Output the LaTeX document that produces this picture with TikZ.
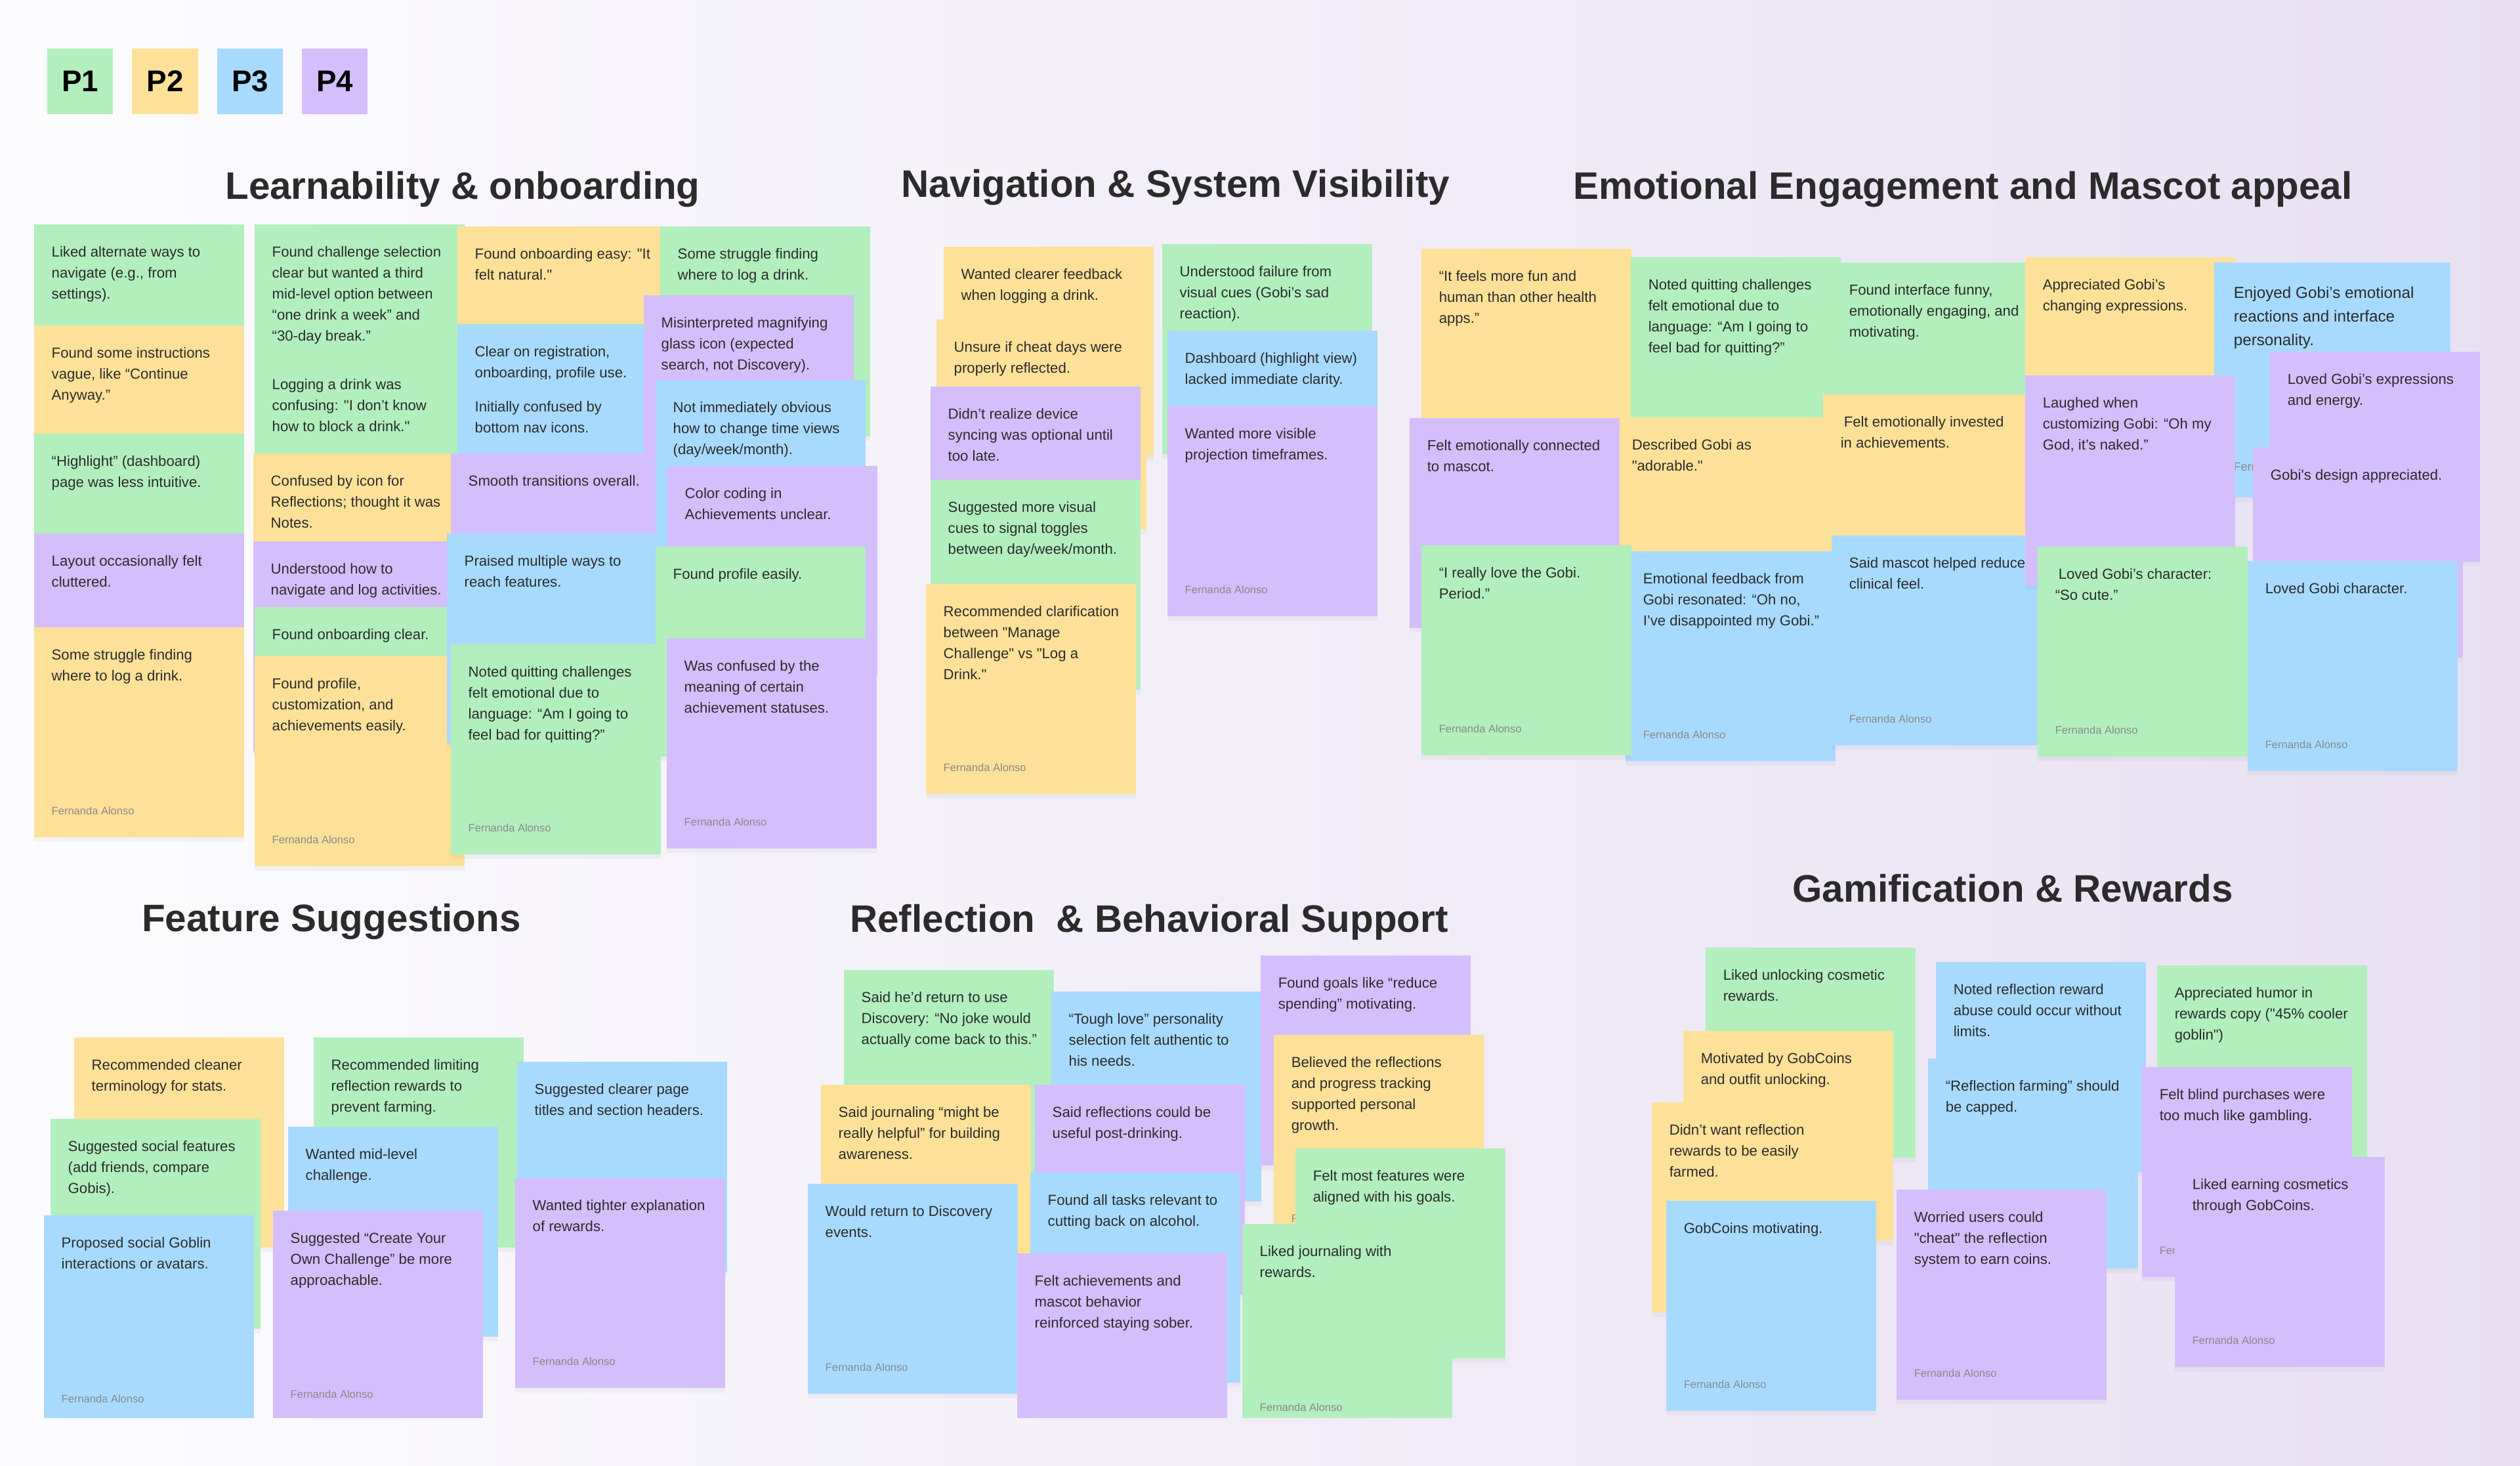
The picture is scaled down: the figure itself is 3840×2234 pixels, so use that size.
\documentclass[tikz,border=0pt]{standalone}
\usepackage{fontspec}
\setmainfont{Liberation Sans}[Ligatures=TeXOff]
\usepackage{xcolor}
\usetikzlibrary{positioning}
\usetikzlibrary{shadows}

\definecolor{pone}{HTML}{B2EFBC}
\definecolor{ptwo}{HTML}{FEE199}
\definecolor{pthree}{HTML}{A8DAFF}
\definecolor{pfour}{HTML}{D5BEFC}
\definecolor{ink}{HTML}{2B2B2B}
\definecolor{signgray}{HTML}{8A8A8A}
\definecolor{bgleft}{HTML}{FCFCFE}
\definecolor{bgright}{HTML}{E8E0F2}

\tikzset{
  paper/.style={fill=#1, anchor=north west, minimum width=3.2cm,
    minimum height=3.2cm, inner sep=0pt,
    drop shadow={shadow xshift=0pt, shadow yshift=-2pt, opacity=.07}},
  memo/.style={anchor=north west, inner sep=0pt, align=left, text=ink,
    font=\fontsize{6.3}{9.1}\selectfont},
  byline/.style={anchor=north west, inner sep=0pt, text=signgray,
    font=\fontsize{4.7}{5.6}\selectfont},
  heading/.style={text=ink, font=\fontsize{16.6}{20}\selectfont\bfseries},
  legendbox/.style={fill=#1, minimum width=1cm, minimum height=1cm,
    inner sep=0pt, font=\fontsize{13}{15}\selectfont\bfseries},
}

% sticky note: name, colour, top left corner, text
\newcommand{\sticky}[4]{%
  \node[paper=#2] (#1) at (#3) {};
  \node[memo] (#1t) at ([xshift=.27cm, yshift=-.34cm]#1.north west) {#4};
}
% author line at the foot of a note
\newcommand{\signed}[1]{%
  \node[byline] (#1s) at ([xshift=.27cm, yshift=-2.74cm]#1.north west)
  {Fernanda Alonso};
}

\begin{document}
\begin{tikzpicture}[x=0.01cm, y=-0.01cm]

  \def\gap{.28cm}

  \useasboundingbox (0,0) rectangle (3840,2234);
  \shade[left color=bgleft, right color=bgright] (0,0) rectangle (3840,2234);

  % Legend
  \node[legendbox=pone] (P1) at (122,124) {P1};
  \node[legendbox=ptwo, right=\gap of P1] (P2) {P2};
  \node[legendbox=pthree, right=\gap of P2] (P3) {P3};
  \node[legendbox=pfour, right=\gap of P3] (P4) {P4};

  % Headings
  \node[heading] (learn) at (705,289) {Learnability \& onboarding};
  \node[heading] (navig) at (1791,286) {Navigation \& System Visibility};
  \node[heading] (emot) at (2991,289) {Emotional Engagement and Mascot appeal};
  \node[heading] (feat) at (505,1405) {Feature Suggestions};
  \node[heading] (refl) at (1751,1405) {Reflection\ \ \& Behavioral Support};
  \node[heading] (gami) at (3067,1354) {Gamification \& Rewards};

  \begin{scope}
    \clip (0,0) rectangle (3840,2160);

    % Learnability & onboarding
    \sticky{A1}{pone}{51,341}{Liked alternate ways to\\navigate (e.g., from\\settings).}
    \sticky{A2}{ptwo}{51,495}{Found some instructions\\vague, like “Continue\\Anyway.”}
    \sticky{A3}{pone}{51,660}{“Highlight” (dashboard)\\page was less intuitive.}
    \sticky{A4}{pfour}{51,812}{Layout occasionally felt\\cluttered.}
    \sticky{A5}{ptwo}{51,955}{Some struggle finding\\where to log a drink.}
    \signed{A5}
    \sticky{B1}{pone}{387,341}{Found challenge selection\\clear but wanted a third\\mid-level option between\\“one drink a week” and\\“30-day break.”}
    \sticky{B2}{pone}{387,543}{Logging a drink was\\confusing: "I don’t know\\how to block a drink."}
    \sticky{B3}{ptwo}{385,690}{Confused by icon for\\Reflections; thought it was\\Notes.}
    \sticky{B4}{pfour}{385,824}{Understood how to\\navigate and log activities.}
    \sticky{B5}{pone}{387,924}{Found onboarding clear.}
    \sticky{B6}{ptwo}{387,999}{Found profile,\\customization, and\\achievements easily.}
    \signed{B6}
    \sticky{C1}{ptwo}{696,344}{Found onboarding easy: "It\\felt natural."}
    \sticky{C2}{pthree}{696,493}{Clear on registration,\\onboarding, profile use.}
    \sticky{C3}{pthree}{696,577}{Initially confused by\\bottom nav icons.}
    \sticky{D1}{pone}{1005,344}{Some struggle finding\\where to log a drink.}
    \sticky{D2}{pfour}{980,449}{Misinterpreted magnifying\\glass icon (expected\\search, not Discovery).}
    \sticky{C4}{pfour}{686,690}{Smooth transitions overall.}
    \sticky{C5}{pthree}{680,812}{Praised multiple ways to\\reach features.}
    \sticky{D3}{pthree}{998,578}{Not immediately obvious\\how to change time views\\(day/week/month).}
    \sticky{D4}{pfour}{1016,709}{Color coding in\\Achievements unclear.}
    \sticky{D5}{pone}{998,832}{Found profile easily.}
    \sticky{C6}{pone}{686,981}{Noted quitting challenges\\felt emotional due to\\language: “Am I going to\\feel bad for quitting?”}
    \signed{C6}
    \sticky{D6}{pfour}{1015,972}{Was confused by the\\meaning of certain\\achievement statuses.}
    \signed{D6}

    % Navigation & System Visibility
    \sticky{N1}{ptwo}{1437,375}{Wanted clearer feedback\\when logging a drink.}
    \sticky{N2}{ptwo}{1426,486}{Unsure if cheat days were\\properly reflected.}
    \sticky{N3}{pfour}{1417,588}{Didn’t realize device\\syncing was optional until\\too late.}
    \sticky{N4}{pone}{1417,730}{Suggested more visual\\cues to signal toggles\\between day/week/month.}
    \sticky{N5}{ptwo}{1410,889}{Recommended clarification\\between "Manage\\Challenge" vs "Log a\\Drink."}
    \signed{N5}
    \sticky{N6}{pone}{1770,371}{Understood failure from\\visual cues (Gobi’s sad\\reaction).}
    \sticky{N7}{pthree}{1778,503}{Dashboard (highlight view)\\lacked immediate clarity.}
    \sticky{N8}{pfour}{1778,618}{Wanted more visible\\projection timeframes.}
    \signed{N8}

    % Emotional Engagement and Mascot appeal
    \sticky{E1}{ptwo}{2165,378}{“It feels more fun and\\human than other health\\apps.”}
    \sticky{E2}{pone}{2484,391}{Noted quitting challenges\\felt emotional due to\\language: “Am I going to\\feel bad for quitting?”}
    \sticky{E3}{pone}{2790,399}{Found interface funny,\\emotionally engaging, and\\motivating.}
    \sticky{E5}{ptwo}{2459,635}{Described Gobi as\\"adorable."}
    \sticky{E6}{ptwo}{2777,600}{\hspace*{.5mm}Felt emotionally invested\\in achievements.}
    \sticky{E4}{pfour}{2147,636}{Felt emotionally connected\\to mascot.}
    \sticky{E8}{pthree}{2476,839}{Emotional feedback from\\Gobi resonated: “Oh no,\\I’ve disappointed my Gobi.”}
    \signed{E8}
    \sticky{E7}{pone}{2165,830}{“I really love the Gobi.\\Period.”}
    \signed{E7}
    \sticky{E9}{pthree}{2790,815}{Said mascot helped reduce\\clinical feel.}
    \signed{E9}
    \sticky{E10}{ptwo}{3085,391}{Appreciated Gobi’s\\changing expressions.}
    \node[paper=pthree, minimum width=3.6cm, minimum height=3.58cm] (E13) at (3373,399) {};
    \node[memo, font=\fontsize{6.9}{10.2}\selectfont] (E13t)
      at ([xshift=.3cm, yshift=-.37cm]E13.north west)
      {Enjoyed Gobi’s emotional\\reactions and interface\\personality.};
    \node[byline, font=\fontsize{5.1}{6}\selectfont] (E13s)
      at ([xshift=.3cm, yshift=-3.05cm]E13.north west) {Fernanda Alonso};
    \sticky{E11}{pfour}{3085,571}{Laughed when\\customizing Gobi: “Oh my\\God, it’s naked.”}
    \sticky{E14}{pfour}{3458,535}{Loved Gobi’s expressions\\and energy.}
    \sticky{E15}{pfour}{3432,681}{Gobi's design appreciated.}
    \sticky{E12}{pone}{3104,832}{\hspace*{.5mm}Loved Gobi’s character:\\“So cute.”}
    \signed{E12}
    \sticky{E16}{pthree}{3424,854}{Loved Gobi character.}
    \signed{E16}

    % Feature Suggestions
    \sticky{F1}{ptwo}{112,1580}{Recommended cleaner\\terminology for stats.}
    \sticky{F2}{pone}{76,1704}{Suggested social features\\(add friends, compare\\Gobis).}
    \sticky{F3}{pthree}{66,1851}{Proposed social Goblin\\interactions or avatars.}
    \signed{F3}
    \sticky{F4}{pone}{477,1580}{Recommended limiting\\reflection rewards to\\prevent farming.}
    \sticky{F5}{pthree}{438,1716}{Wanted mid-level\\challenge.}
    \sticky{F6}{pfour}{415,1844}{Suggested “Create Your\\Own Challenge” be more\\approachable.}
    \signed{F6}
    \sticky{F7}{pthree}{787,1617}{Suggested clearer page\\titles and section headers.}
    \sticky{F8}{pfour}{784,1794}{Wanted tighter explanation\\of rewards.}
    \signed{F8}

    % Reflection & Behavioral Support
    \sticky{R1}{pone}{1285,1477}{Said he’d return to use\\Discovery: “No joke would\\actually come back to this.”}
    \sticky{R2}{pthree}{1601,1510}{“Tough love” personality\\selection felt authentic to\\his needs.}
    \sticky{R3}{pfour}{1920,1455}{Found goals like “reduce\\spending” motivating.}
    \sticky{R4}{ptwo}{1250,1652}{Said journaling “might be\\really helpful” for building\\awareness.}
    \sticky{R5}{pfour}{1576,1652}{Said reflections could be\\useful post-drinking.}
    \sticky{R6}{ptwo}{1940,1576}{Believed the reflections\\and progress tracking\\supported personal\\growth.}
    \signed{R6}
    \sticky{R7}{pthree}{1230,1803}{Would return to Discovery\\events.}
    \signed{R7}
    \sticky{R8}{pthree}{1569,1786}{Found all tasks relevant to\\cutting back on alcohol.}
    \sticky{R9}{pone}{1973,1749}{Felt most features were\\aligned with his goals.}
    \sticky{R10}{pfour}{1549,1909}{Felt achievements and\\mascot behavior\\reinforced staying sober.}
    \sticky{R11}{pone}{1892,1864}{Liked journaling with\\rewards.}
    \signed{R11}

    % Gamification & Rewards
    \sticky{G1}{pone}{2598,1443}{Liked unlocking cosmetic\\rewards.}
    \sticky{G2}{ptwo}{2564,1570}{Motivated by GobCoins\\and outfit unlocking.}
    \sticky{G3}{ptwo}{2516,1679}{Didn’t want reflection\\rewards to be easily\\farmed.}
    \sticky{G4}{pthree}{2538,1829}{GobCoins motivating.}
    \signed{G4}
    \sticky{G5}{pthree}{2949,1465}{Noted reflection reward\\abuse could occur without\\limits.}
    \sticky{G6}{pthree}{2937,1612}{“Reflection farming” should\\be capped.}
    \sticky{G7}{pfour}{2889,1812}{Worried users could\\"cheat" the reflection\\system to earn coins.}
    \signed{G7}
    \sticky{G8}{pone}{3286,1470}{Appreciated humor in\\rewards copy ("45\% cooler\\goblin")}
    \sticky{G9}{pfour}{3263,1625}{Felt blind purchases were\\too much like gambling.}
    \signed{G9}
    \sticky{G10}{pfour}{3313,1762}{Liked earning cosmetics\\through GobCoins.}
    \signed{G10}
  \end{scope}

\end{tikzpicture}
\end{document}
